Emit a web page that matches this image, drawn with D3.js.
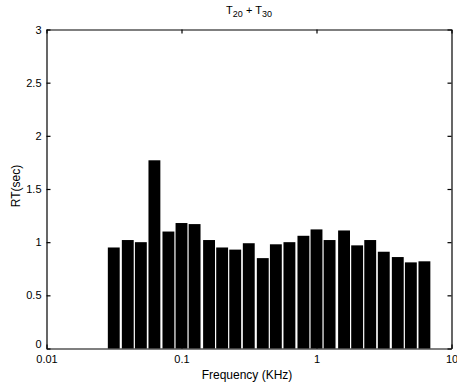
<!DOCTYPE html>
<html>
<head>
<meta charset="utf-8">
<script src="https://cdn.jsdelivr.net/npm/d3@7"></script>
<style>
  html, body { margin: 0; padding: 0; background: #fff; }
  svg { display: block; font-family: "Liberation Sans", Arial, sans-serif; }
</style>
</head>
<body>
<svg id="chart" width="457" height="388"></svg>
<script>
// Third-octave band centre frequencies (kHz)
const frequencies = [0.0315, 0.04, 0.05, 0.063, 0.08, 0.1, 0.125, 0.16, 0.2, 0.25, 0.315, 0.4,
                     0.5, 0.63, 0.8, 1, 1.25, 1.6, 2, 2.5, 3.15, 4, 5, 6.3];
// Reverberation time (sec)
const rtValues = [0.95, 1.02, 1.00, 1.77, 1.10, 1.18, 1.17, 1.02, 0.95, 0.93, 0.99, 0.85,
                  0.98, 1.00, 1.06, 1.12, 1.02, 1.11, 0.97, 1.02, 0.91, 0.86, 0.81, 0.82];
const xTicks = [0.01, 0.1, 1, 10];
const xTickLabels = ["0.01", "0.1", "1", "10"];
const yTicks = [0, 0.5, 1, 1.5, 2, 2.5, 3];
const yTickLabels = ["0", "0.5", "1", "1.5", "2", "2.5", "3"];

(function () {
const svg = d3.select("#chart");
const mLeft = 46.5, mRight = 451.5, mTop = 29.5, mBottom = 348.5;

const x = d3.scaleLog().domain([0.01, 10]).range([mLeft, mRight]);
const y = d3.scaleLinear().domain([0, 3]).range([mBottom, mTop]);

const halfW = 0.044; // half bar width in log10 units
const data = frequencies.map((f, i) => ({ f, v: rtValues[i] }));

svg.append("g").selectAll("rect").data(data).join("rect")
  .attr("x", d => x(d.f * Math.pow(10, -halfW)))
  .attr("width", d => x(d.f * Math.pow(10, halfW)) - x(d.f * Math.pow(10, -halfW)))
  .attr("y", d => y(d.v))
  .attr("height", d => y(0) - y(d.v))
  .attr("fill", "#000");

const tickLen = 4;
const xAxisB = d3.axisBottom(x).tickValues(xTicks).tickFormat((d, i) => xTickLabels[i])
  .tickSizeInner(-tickLen).tickSizeOuter(0).tickPadding(7);
const gxb = svg.append("g").attr("transform", `translate(0,${mBottom})`).call(xAxisB);
const xAxisT = d3.axisTop(x).tickValues(xTicks).tickFormat("")
  .tickSizeInner(-tickLen).tickSizeOuter(0);
const gxt = svg.append("g").attr("transform", `translate(0,${mTop})`).call(xAxisT);
const yAxisL = d3.axisLeft(y).tickValues(yTicks).tickFormat((d, i) => yTickLabels[i])
  .tickSizeInner(-tickLen).tickSizeOuter(0).tickPadding(5);
const gyl = svg.append("g").attr("transform", `translate(${mLeft},0)`).call(yAxisL);
const yAxisR = d3.axisRight(y).tickValues(yTicks).tickFormat("")
  .tickSizeInner(-tickLen).tickSizeOuter(0);
const gyr = svg.append("g").attr("transform", `translate(${mRight},0)`).call(yAxisR);

[gxb, gxt, gyl, gyr].forEach(g => {
  g.selectAll(".domain").attr("stroke", "#000").attr("stroke-width", 1.2);
  g.selectAll(".tick line").attr("stroke", "#000").attr("stroke-width", 1.2);
  g.selectAll(".tick text").attr("fill", "#000").attr("font-size", 11)
    .attr("font-family", "Liberation Sans, Arial, sans-serif");
});
// lift the "0" label a little so it does not collide with "0.01"
gyl.selectAll(".tick text").filter(d => d === 0).attr("dy", "-0.05em");

svg.append("text").attr("x", (mLeft + mRight) / 2 - 2).attr("y", 379)
  .attr("text-anchor", "middle").attr("font-size", 12).text("Frequency (KHz)");
svg.append("text").attr("transform", `translate(20,${(mTop + mBottom) / 2 - 3}) rotate(-90)`)
  .attr("text-anchor", "middle").attr("font-size", 12).text("RT(sec)");

const title = svg.append("text").attr("x", (mLeft + mRight) / 2).attr("y", 14)
  .attr("text-anchor", "middle").attr("font-size", 11);
title.append("tspan").text("T");
title.append("tspan").attr("font-size", 9).attr("dy", 3).text("20");
title.append("tspan").attr("dy", -3).text(" + T");
title.append("tspan").attr("font-size", 9).attr("dy", 3).text("30");
})();
</script>
</body>
</html>
